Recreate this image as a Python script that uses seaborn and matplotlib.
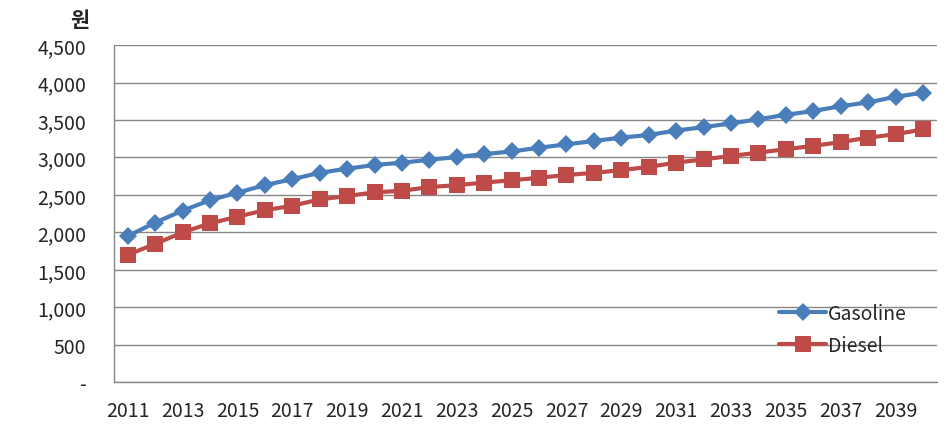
import pandas as pd
import matplotlib.pyplot as plt
import matplotlib.ticker as mticker
import seaborn as sns

# 연도별 유가 전망 (원)
years = list(range(2011, 2041))
gasoline = [1950, 2130, 2290, 2430, 2530, 2630, 2710, 2795, 2850, 2900,
            2930, 2970, 3005, 3045, 3080, 3130, 3175, 3220, 3265, 3300,
            3360, 3405, 3455, 3510, 3570, 3620, 3685, 3735, 3810, 3865]
diesel = [1700, 1845, 2000, 2120, 2210, 2295, 2355, 2440, 2485, 2535,
          2555, 2605, 2630, 2665, 2695, 2730, 2765, 2795, 2830, 2875,
          2930, 2975, 3020, 3065, 3110, 3155, 3205, 3265, 3310, 3375]
series_names = ['Gasoline', 'Diesel']
label_years = years[::2]

df = pd.DataFrame({'year': years, 'Gasoline': gasoline, 'Diesel': diesel})

sns.set_style('white')
plt.rcParams['font.family'] = ['Noto Sans CJK KR', 'DejaVu Sans']

fig = plt.figure(figsize=(9.5, 4.31), dpi=100)
ax = fig.add_axes([0.12, 0.111, 0.866, 0.782])

sns.lineplot(data=df, x='year', y='Gasoline', ax=ax, color='#4A7EBB',
             marker='D', markersize=9, markeredgewidth=0, linewidth=3,
             label=series_names[0])
sns.lineplot(data=df, x='year', y='Diesel', ax=ax, color='#BE4B48',
             marker='s', markersize=11, markeredgewidth=0, linewidth=3,
             label=series_names[1])

grid_c = '#868686'
ax.set_xlim(2010.5, 2040.5)
ax.set_ylim(0, 4500)
ax.set_yticks(range(0, 4501, 500))
ax.yaxis.set_major_formatter(mticker.FuncFormatter(
    lambda v, p: '-' if v == 0 else f'{int(v):,}'))
ax.set_xticks(label_years)
ax.set_xticklabels([str(y) for y in label_years])
ax.set_xticks([y - 0.5 for y in years] + [2040.5], minor=True)
ax.tick_params(axis='x', which='major', length=0, pad=13, labelsize=14)
ax.tick_params(axis='x', which='minor', length=6, color=grid_c, width=1)
ax.tick_params(axis='y', which='major', length=7, color=grid_c, width=1,
               labelsize=14, pad=13)
ax.grid(axis='y', color=grid_c, linewidth=1)
ax.set_axisbelow(True)
for s in ['top', 'right']:
    ax.spines[s].set_visible(False)
for s in ['left', 'bottom']:
    ax.spines[s].set_color(grid_c)
    ax.spines[s].set_linewidth(1)
ax.set_xlabel('')
ax.set_ylabel('')

ax.legend(loc='lower right', bbox_to_anchor=(0.985, 0.025), frameon=False,
          fontsize=14, handlelength=2.4, handletextpad=0.1,
          labelspacing=0.6)

fig.text(0.084, 0.953, '원', fontsize=15, fontweight='bold',
         ha='center', va='center')

plt.savefig('out.png', dpi=100)
